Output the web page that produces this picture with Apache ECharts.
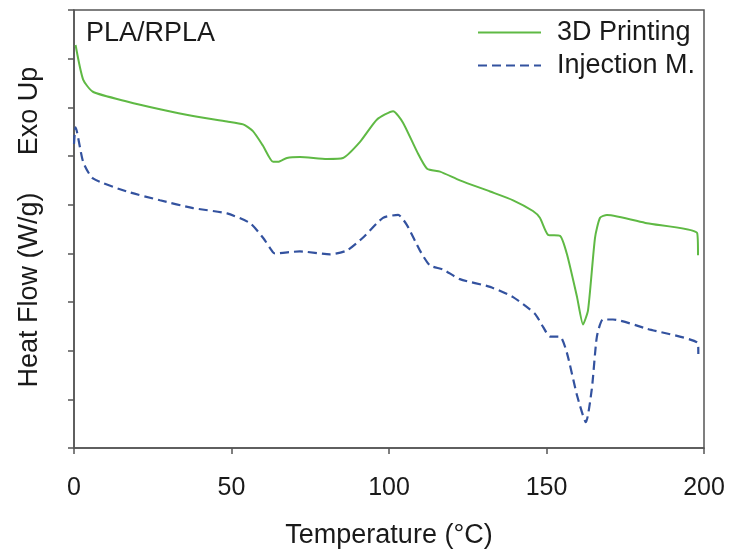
<!DOCTYPE html>
<html>
<head>
<meta charset="utf-8">
<script src="https://cdn.jsdelivr.net/npm/echarts@6/dist/echarts.min.js"></script>
<style>
  html, body { margin: 0; padding: 0; background: #fff; }
  #chart { width: 730px; height: 554px; }
</style>
</head>
<body>
<div id="chart"></div>
<script>
// DSC traces, temperature (°C) vs heat flow (arbitrary units, exo up)
const printingTemp = [0.5, 2.9, 6.0, 16.8, 27.3, 37.8, 48.6, 53.7, 56.8, 60.0, 63.2, 64.8, 67.6, 71.7, 80.3, 85.4, 90.8, 96.2, 101.3, 104.4, 108.9, 112.1, 116.2, 122.5, 132.1, 139.4, 145.7, 147.9, 150.5, 154.3, 156.5, 159.7, 161.6, 163.2, 165.4, 167.0, 169.2, 181.9, 197.8, 198.1];
const printingFlow = [8.28, 7.57, 7.32, 7.12, 6.96, 6.82, 6.71, 6.65, 6.51, 6.21, 5.88, 5.88, 5.96, 5.98, 5.94, 5.96, 6.29, 6.75, 6.92, 6.69, 6.09, 5.74, 5.68, 5.50, 5.27, 5.09, 4.87, 4.73, 4.38, 4.36, 3.98, 3.10, 2.54, 2.84, 4.32, 4.73, 4.79, 4.62, 4.42, 3.96];

const injectionTemp = [0.0, 0.5, 2.9, 6.0, 16.8, 27.3, 37.8, 48.6, 55.9, 60.0, 63.2, 63.8, 71.7, 81.3, 86.7, 91.7, 98.1, 102.9, 105.7, 109.8, 113.0, 117.1, 122.5, 132.1, 139.4, 146.3, 148.9, 151.1, 154.3, 156.5, 159.7, 162.5, 164.4, 166.0, 167.9, 171.1, 181.9, 198.1, 198.2];
const injectionFlow = [6.25, 6.59, 5.88, 5.54, 5.27, 5.09, 4.93, 4.82, 4.62, 4.32, 4.02, 4.00, 4.04, 3.98, 4.06, 4.32, 4.73, 4.79, 4.58, 4.06, 3.75, 3.67, 3.47, 3.31, 3.10, 2.76, 2.49, 2.29, 2.29, 1.95, 1.08, 0.53, 1.22, 2.29, 2.64, 2.64, 2.45, 2.15, 1.93];

const xTicks = [0, 50, 100, 150, 200];

const FONT = "'Liberation Sans', Arial, sans-serif";
const AXIS = "#555";
const TEXT = "#1a1a1a";

const pairs = (xs, ys) => xs.map((x, i) => [x, ys[i]]);

const chart = echarts.init(document.getElementById("chart"));

chart.setOption({
  animation: false,
  backgroundColor: "#fff",
  textStyle: { fontFamily: FONT },
  grid: {
    left: 74,
    right: 26,
    top: 10,
    bottom: 101,
    show: true,
    borderColor: AXIS,
    borderWidth: 1.5,
    containLabel: false,
  },
  legend: {
    orient: "vertical",
    left: 477,
    top: 19,
    padding: 0,
    align: "left",
    itemWidth: 63,
    itemHeight: 14,
    itemGap: 6,
    itemStyle: { opacity: 0 },
    textStyle: {
      fontFamily: FONT,
      fontSize: 27,
      color: TEXT,
      lineHeight: 27,
      padding: [0, 0, 0, 11],
    },
    data: ["3D Printing", "Injection M."],
  },
  xAxis: {
    type: "value",
    min: 0,
    max: 200,
    interval: 50,
    name: "Temperature (°C)",
    nameLocation: "middle",
    nameGap: 74,
    nameTextStyle: { fontFamily: FONT, fontSize: 27, color: TEXT },
    axisLine: { lineStyle: { color: AXIS, width: 1.5 } },
    axisTick: { show: true, inside: false, length: 6, lineStyle: { color: AXIS, width: 1.5 } },
    axisLabel: {
      fontFamily: FONT,
      fontSize: 25,
      color: TEXT,
      margin: 28,
      formatter: (v) => (xTicks.includes(v) ? String(v) : ""),
    },
    splitLine: { show: false },
  },
  yAxis: {
    type: "value",
    min: 0,
    max: 9,
    interval: 1,
    axisLine: { show: true, lineStyle: { color: AXIS, width: 1.5 } },
    axisTick: { show: true, inside: false, length: 6, lineStyle: { color: AXIS, width: 1.5 } },
    axisLabel: { show: false },
    splitLine: { show: false },
  },
  graphic: [
    {
      type: "text",
      left: 86,
      top: 20,
      style: { text: "PLA/RPLA", font: "27px " + FONT, fill: TEXT },
    },
    {
      type: "text",
      x: 30,
      y: 290,
      rotation: Math.PI / 2,
      style: {
        text: "Heat Flow (W/g)",
        font: "27px " + FONT,
        fill: TEXT,
        align: "center",
        verticalAlign: "middle",
        textAlign: "center",
        textVerticalAlign: "middle",
      },
    },
    {
      type: "text",
      x: 30,
      y: 111,
      rotation: Math.PI / 2,
      style: {
        text: "Exo Up",
        font: "27px " + FONT,
        fill: TEXT,
        align: "center",
        verticalAlign: "middle",
        textAlign: "center",
        textVerticalAlign: "middle",
      },
    },
  ],
  series: [
    {
      name: "3D Printing",
      type: "line",
      data: pairs(printingTemp, printingFlow),
      showSymbol: false,
      symbol: "none",
      smooth: 0.2,
      lineStyle: { color: "#5fb944", width: 2 },
      itemStyle: { color: "#5fb944" },
    },
    {
      name: "Injection M.",
      type: "line",
      data: pairs(injectionTemp, injectionFlow),
      showSymbol: false,
      symbol: "none",
      smooth: 0.2,
      lineStyle: { color: "#33529f", width: 2.2, type: [9, 5] },
      itemStyle: { color: "#33529f" },
    },
  ],
});
</script>
</body>
</html>
